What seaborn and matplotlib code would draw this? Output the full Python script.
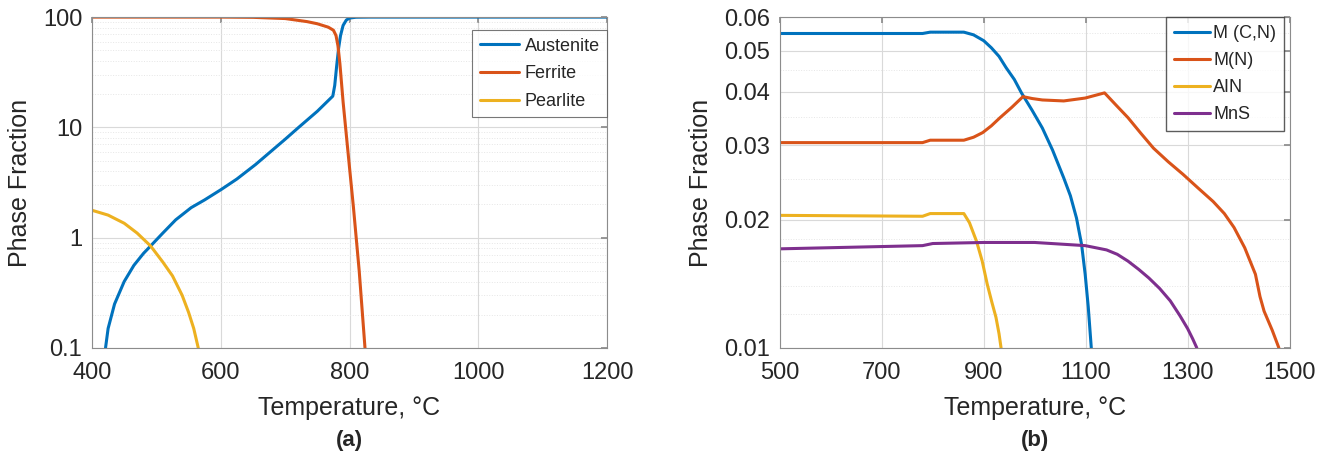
import numpy as np
import pandas as pd
import matplotlib
matplotlib.use("Agg")
import matplotlib.pyplot as plt
import matplotlib.ticker as mticker
import seaborn as sns

# panel (a): phase fractions vs temperature
austenite_t = [421, 425, 435, 450, 465, 480, 491, 510, 530, 554, 575, 601, 625, 654, 680, 700,
               721, 750, 774, 777, 780, 783, 786, 790, 795, 800, 810, 830, 1200]
austenite_v = [0.1, 0.15, 0.25, 0.4, 0.56, 0.72, 0.84, 1.1, 1.45, 1.87, 2.2, 2.74, 3.4, 4.6, 6.2, 7.8,
               10, 14, 19.2, 24, 36, 52, 68, 84, 94, 98, 99.7, 100, 100]

ferrite_t = [400, 500, 600, 650, 700, 734, 750, 767, 775, 779, 782, 785, 790, 800, 806, 815, 824]
ferrite_v = [100, 100, 100, 99.5, 97, 91, 87, 81, 76, 68, 55, 38, 17, 4.3, 1.9, 0.5, 0.1]

pearlite_t = [400, 425, 450, 470, 491, 510, 525, 540, 550, 558, 565]
pearlite_v = [1.77, 1.6, 1.35, 1.1, 0.84, 0.6, 0.45, 0.3, 0.21, 0.15, 0.1]

# panel (b): precipitate fractions vs temperature
mcn_t = [500, 780, 795, 861, 880, 900, 915, 930, 944, 960, 974, 995, 1015, 1035, 1057, 1070,
         1082, 1092, 1099, 1105, 1111]
mcn_v = [0.0549, 0.0549, 0.0553, 0.0553, 0.0545, 0.0528, 0.0508, 0.0485, 0.0456, 0.0428, 0.0398,
         0.0362, 0.0329, 0.0292, 0.0251, 0.0228, 0.0202, 0.0175, 0.0149, 0.0125, 0.010]

mn_t = [500, 780, 795, 861, 880, 898, 915, 932, 955, 977, 995, 1015, 1057, 1099, 1137, 1160, 1183,
        1208, 1233, 1262, 1291, 1320, 1350, 1372, 1391, 1412, 1433, 1442, 1450, 1466, 1479]
mn_v = [0.0304, 0.0304, 0.0308, 0.0308, 0.0313, 0.0321, 0.0333, 0.0348, 0.0368, 0.0390, 0.0386,
        0.0383, 0.0381, 0.0387, 0.0398, 0.0372, 0.0348, 0.0320, 0.0295, 0.0274, 0.0256, 0.0238,
        0.0221, 0.0207, 0.0192, 0.0172, 0.0149, 0.0132, 0.0122, 0.0110, 0.010]

aln_t = [500, 780, 795, 861, 872, 886, 897, 907, 916, 924, 930, 934]
aln_v = [0.0205, 0.0204, 0.0207, 0.0207, 0.0197, 0.0178, 0.0160, 0.0141, 0.0128, 0.0118, 0.0108, 0.010]

mns_t = [500, 780, 800, 900, 1000, 1099, 1120, 1141, 1162, 1183, 1204, 1224, 1245, 1266, 1285,
         1300, 1310, 1318]
mns_v = [0.0171, 0.0174, 0.0176, 0.0177, 0.0177, 0.0174, 0.0172, 0.0170, 0.0166, 0.0160, 0.0153,
         0.0146, 0.0138, 0.0129, 0.0119, 0.0111, 0.0105, 0.010]

COLORS = ["#0072BD", "#D95319", "#EDB120", "#7E2F8E"]
TEXT = "#262626"

sns.set_theme(style="white")
plt.rcParams["font.family"] = ["Liberation Sans", "DejaVu Sans"]

fig = plt.figure(figsize=(13.24, 4.62), dpi=100)
ax_a = fig.add_axes([0.0695, 0.247, 0.389, 0.716])
ax_b = fig.add_axes([0.589, 0.247, 0.385, 0.716])


def style_axes(ax):
    ax.set_yscale("log")
    ax.grid(True, which="major", color="#d9d9d9", linewidth=0.8)
    ax.grid(True, which="minor", axis="y", color="#e6e6e6", linewidth=0.7, linestyle=":")
    for s in ax.spines.values():
        s.set_color("#8c8c8c")
        s.set_linewidth(0.8)
    ax.tick_params(axis="both", which="major", labelsize=17, colors=TEXT, pad=7,
                   direction="in", length=4, color="#8c8c8c", top=True, right=True)
    ax.tick_params(axis="x", which="major", pad=10)
    ax.tick_params(axis="y", which="minor", length=0)
    ax.set_xlabel("Temperature, °C", fontsize=18, color=TEXT, labelpad=9)
    ax.set_ylabel("Phase Fraction", fontsize=18, color=TEXT, labelpad=8)


# (a)
series_a = [("Austenite", austenite_t, austenite_v),
            ("Ferrite", ferrite_t, ferrite_v),
            ("Pearlite", pearlite_t, pearlite_v)]
for (name, t, v), c in zip(series_a, COLORS):
    sns.lineplot(x=t, y=v, ax=ax_a, color=c, linewidth=2.2, label=name, sort=False)
style_axes(ax_a)
ax_a.set_xlim(400, 1200)
ax_a.set_ylim(0.1, 100)
ax_a.set_xticks([400, 600, 800, 1000, 1200])
ax_a.set_yticks([0.1, 1, 10, 100])
ax_a.yaxis.set_major_formatter(mticker.FuncFormatter(lambda v, p: f"{v:g}"))
ax_a.yaxis.set_minor_locator(mticker.LogLocator(base=10, subs=np.arange(2, 10)))
ax_a.yaxis.set_minor_formatter(mticker.NullFormatter())
leg = ax_a.legend(loc="upper right", bbox_to_anchor=(1.0, 0.96), fontsize=13, frameon=True,
                  fancybox=False, edgecolor="#555555", handlelength=2.2, borderaxespad=0.0,
                  labelspacing=0.6, handletextpad=0.3)
leg.get_frame().set_linewidth(0.8)
ax_a.text(0.5, -0.28, "(a)", transform=ax_a.transAxes, ha="center", va="center",
          fontsize=16, fontweight="bold", color=TEXT)

# (b)
series_b = [("M (C,N)", mcn_t, mcn_v),
            ("M(N)", mn_t, mn_v),
            ("AIN", aln_t, aln_v),
            ("MnS", mns_t, mns_v)]
for (name, t, v), c in zip(series_b, COLORS):
    sns.lineplot(x=t, y=v, ax=ax_b, color=c, linewidth=2.2, label=name, sort=False)
style_axes(ax_b)
ax_b.set_xlim(500, 1500)
ax_b.set_ylim(0.01, 0.06)
ax_b.set_xticks([500, 700, 900, 1100, 1300, 1500])
ax_b.set_yticks([0.01, 0.02, 0.03, 0.04, 0.05, 0.06])
ax_b.yaxis.set_major_formatter(mticker.FuncFormatter(lambda v, p: f"{v:.2f}"))
ax_b.yaxis.set_minor_locator(mticker.FixedLocator([0.012, 0.014, 0.016, 0.018, 0.025, 0.035, 0.045, 0.055]))
ax_b.yaxis.set_minor_formatter(mticker.NullFormatter())
leg = ax_b.legend(loc="upper right", bbox_to_anchor=(0.99, 1.0), fontsize=13, frameon=True,
                  fancybox=False, edgecolor="#333333", handlelength=2.0, borderaxespad=0.0,
                  labelspacing=0.55, handletextpad=0.2, borderpad=0.45)
leg.get_frame().set_linewidth(1.0)
ax_b.text(0.5, -0.28, "(b)", transform=ax_b.transAxes, ha="center", va="center",
          fontsize=16, fontweight="bold", color=TEXT)

fig.savefig("out.png", dpi=100)
